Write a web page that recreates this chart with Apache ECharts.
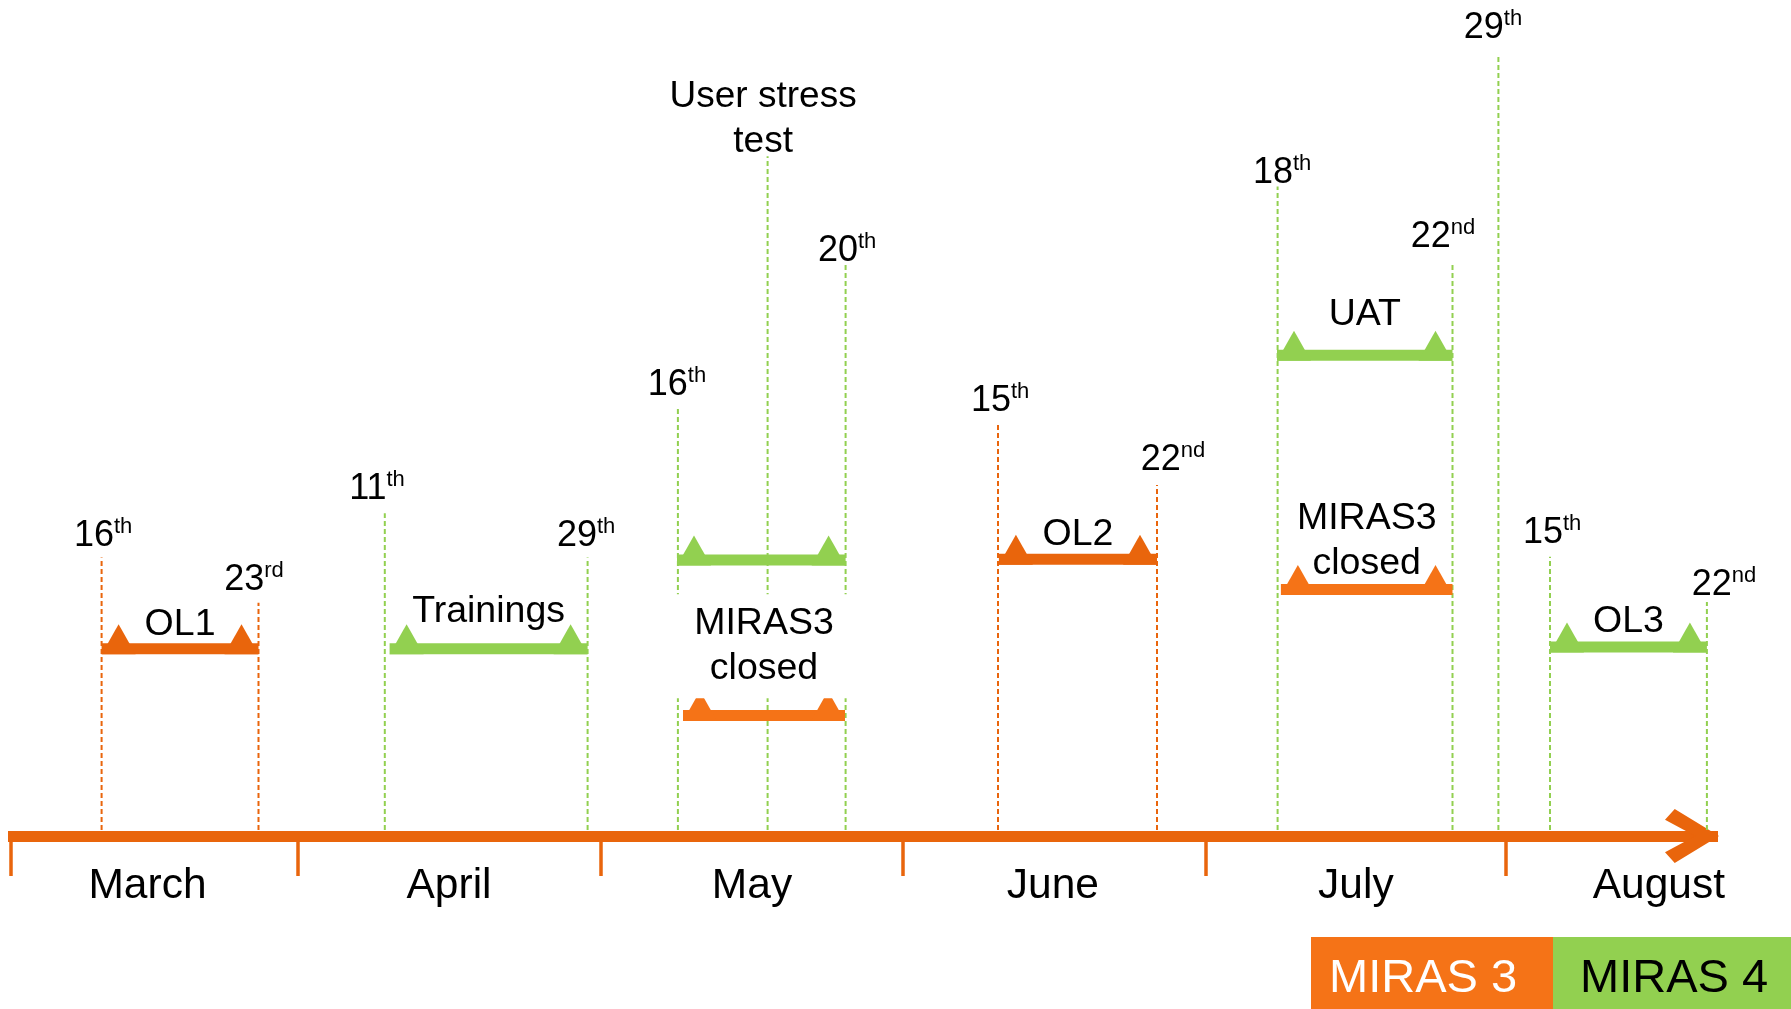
<!DOCTYPE html>
<html>
<head>
<meta charset="utf-8">
<title>MIRAS timeline</title>
<script src="https://cdn.jsdelivr.net/npm/echarts@6/dist/echarts.min.js"></script>
<style>
  html, body { margin: 0; padding: 0; background: #fff; }
  #main { width: 1791px; height: 1009px; }
</style>
</head>
<body>
<div id="main"></div>
<script>
// roughly one axis unit per month, March starts at 0
var months = ['March', 'April', 'May', 'June', 'July', 'August'];
var monthStarts = [0.01, 0.967, 1.977, 2.983, 3.993, 4.993];
var monthMid = [0.465, 1.470, 2.480, 3.483, 4.493, 5.503];

// date markers: x in month units, top of dashed line, day-label position (0..100 levels)
var markerX      = [0.312, 0.835, 1.256, 1.932, 2.233, 2.532, 2.792, 3.300, 3.830, 4.232, 4.815, 4.968, 5.140, 5.663];
var markerTop    = [33.3, 27.9, 38.6, 33.3, 51.3, 81.3, 68.4, 49.5, 42.0, 77.7, 68.4, 93.4, 33.4, 28.0];
var markerLabelX = [0.317, 0.820, 1.230, 1.927, 2.230, 2.517, 2.797, 3.307, 3.883, 4.247, 4.783, 4.950, 5.147, 5.720];
var markerLabelY = [35.9, 30.6, 41.5, 35.9, 53.9, 85.7, 70.0, 52.0, 45.0, 79.3, 71.6, 96.6, 36.2, 30.0];
var markerText   = ['16th', '23rd', '11th', '29th', '16th', 'User stress\ntest', '20th', '15th', '22nd', '18th', '22nd', '29th', '15th', '22nd'];
var markerSystem = ['MIRAS 3', 'MIRAS 3', 'MIRAS 4', 'MIRAS 4', 'MIRAS 4', 'MIRAS 4', 'MIRAS 4',
                    'MIRAS 3', 'MIRAS 3', 'MIRAS 4', 'MIRAS 4', 'MIRAS 4', 'MIRAS 4', 'MIRAS 4'];

// activity bars
var barName   = ['OL1', 'Trainings', '', 'MIRAS3\nclosed', 'OL2', 'UAT', 'MIRAS3\nclosed', 'OL3'];
var barStart  = [0.312, 1.272, 2.230, 2.250, 3.303, 4.230, 4.243, 5.140];
var barEnd    = [0.835, 1.932, 2.792, 2.790, 3.830, 4.815, 4.815, 5.663];
var barLevel  = [22.4, 22.4, 33.0, 14.4, 33.1, 57.5, 29.5, 22.6];
var barLabelY = [25.3, 26.8, 0, 22.7, 36.0, 62.4, 35.3, 25.6];
var barSystem = ['MIRAS 3', 'MIRAS 4', 'MIRAS 4', 'MIRAS 3', 'MIRAS 3', 'MIRAS 4', 'MIRAS 3', 'MIRAS 4'];

var legendItems = ['MIRAS 3', 'MIRAS 4'];

// styles
var FONT = "'Liberation Sans', Arial, sans-serif";
var ORANGE = '#E9650C';
var ORANGE_LIGHT = '#F57317';
var GREEN = '#92D050';
var systemColor = { 'MIRAS 3': ORANGE, 'MIRAS 4': GREEN };
var barColor = [ORANGE, GREEN, GREEN, ORANGE_LIGHT, ORANGE, GREEN, ORANGE_LIGHT, GREEN];
var boxedLabel = { 3: true };

var chart = echarts.init(document.getElementById('main'));

function dayText(t) {
    var m = /^(\d+)(\D+)$/.exec(t);
    return m ? '{n|' + m[1] + '}{s|' + m[2] + '}' : t;
}

var option = {
    animation: false,
    backgroundColor: '#fff',
    grid: { left: 8, right: 73, top: 0, bottom: 173 },
    xAxis: {
        type: 'value',
        min: 0,
        max: 5.7,
        axisLine: {
            show: true,
            onZero: false,
            symbol: ['none', 'path://M50,0 L100,82 L80,100 L50,44 L20,100 L0,82 Z'],
            symbolSize: [56, 54],
            symbolOffset: [0, -26],
            lineStyle: { color: ORANGE, width: 11, cap: 'butt' }
        },
        axisTick: {
            show: true,
            customValues: monthStarts,
            length: 40,
            lineStyle: { color: ORANGE, width: 3.5 }
        },
        axisLabel: {
            customValues: monthMid,
            formatter: function (v) { return months[Math.floor(v)]; },
            fontSize: 42.5,
            fontFamily: FONT,
            color: '#000',
            margin: 29
        },
        splitLine: { show: false }
    },
    yAxis: {
        type: 'value',
        min: 0,
        max: 100,
        show: false
    },
    series: [
        {
            type: 'custom',
            name: 'markers',
            data: markerX.map(function (x, i) { return [x, markerTop[i], markerLabelX[i], markerLabelY[i]]; }),
            renderItem: function (params, api) {
                var i = params.dataIndex;
                var p0 = api.coord([api.value(0), 0]);
                var p1 = api.coord([api.value(0), api.value(1)]);
                var pl = api.coord([api.value(2), api.value(3)]);
                return {
                    type: 'group',
                    children: [{
                        type: 'line',
                        shape: { x1: p0[0], y1: p0[1] - 6, x2: p1[0], y2: p1[1] },
                        style: { stroke: systemColor[markerSystem[i]], lineWidth: 2, lineDash: [5, 3] }
                    }, {
                        type: 'text',
                        x: pl[0],
                        y: pl[1],
                        style: {
                            text: dayText(markerText[i]),
                            fill: '#000',
                            fontSize: 37,
                            fontFamily: FONT,
                            lineHeight: 45,
                            align: 'center',
                            verticalAlign: 'middle',
                            rich: {
                                n: { fontSize: 36, fontFamily: FONT, lineHeight: 40, fill: '#000' },
                                s: { fontSize: 22, fontFamily: FONT, lineHeight: 26, verticalAlign: 'top', fill: '#000' }
                            }
                        }
                    }]
                };
            }
        },
        {
            type: 'custom',
            name: 'activities',
            data: barStart.map(function (s, i) { return [s, barEnd[i], barLevel[i], barLabelY[i]]; }),
            renderItem: function (params, api) {
                var i = params.dataIndex;
                var a = api.coord([api.value(0), api.value(2)]);
                var b = api.coord([api.value(1), api.value(2)]);
                var color = barColor[i];
                var th = 11, tw = 34, tht = 30;
                var base = a[1] + th / 2;
                var children = [{
                    type: 'rect',
                    shape: { x: a[0], y: a[1] - th / 2, width: b[0] - a[0], height: th },
                    style: { fill: color }
                }, {
                    type: 'polygon',
                    shape: { points: [[a[0], base], [a[0] + tw / 2, base - tht], [a[0] + tw, base]] },
                    style: { fill: color }
                }, {
                    type: 'polygon',
                    shape: { points: [[b[0] - tw, base], [b[0] - tw / 2, base - tht], [b[0], base]] },
                    style: { fill: color }
                }];
                if (barName[i]) {
                    var pl = api.coord([(api.value(0) + api.value(1)) / 2, api.value(3)]);
                    var st = {
                        text: barName[i],
                        fill: '#000',
                        fontSize: 37.5,
                        fontFamily: FONT,
                        lineHeight: 45,
                        align: 'center',
                        verticalAlign: 'middle'
                    };
                    if (boxedLabel[i]) {
                        st.backgroundColor = '#fff';
                        st.padding = [14, 22, 0, 22];
                    }
                    children.push({ type: 'text', x: pl[0], y: pl[1], style: st });
                }
                return { type: 'group', children: children };
            }
        }
    ],
    graphic: [
        { type: 'rect', left: 1311, top: 937, shape: { width: 242, height: 72 }, style: { fill: ORANGE_LIGHT } },
        { type: 'rect', left: 1553, top: 937, shape: { width: 238, height: 72 }, style: { fill: GREEN } },
        { type: 'text', x: 1423, y: 979, style: { text: legendItems[0], fill: '#fff', fontSize: 47, fontFamily: FONT, align: 'center', verticalAlign: 'middle' } },
        { type: 'text', x: 1674, y: 979, style: { text: legendItems[1], fill: '#000', fontSize: 47, fontFamily: FONT, align: 'center', verticalAlign: 'middle' } }
    ]
};

chart.setOption(option);
</script>
</body>
</html>
